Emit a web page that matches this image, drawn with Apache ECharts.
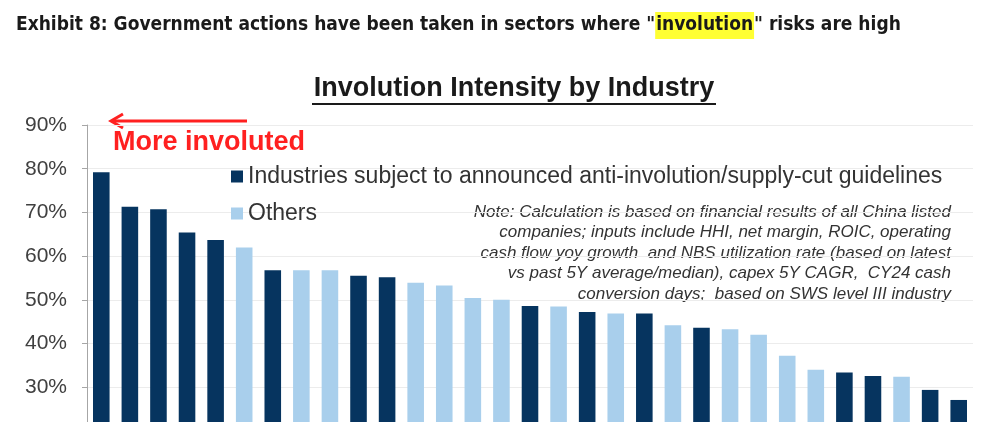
<!DOCTYPE html>
<html>
<head>
<meta charset="utf-8">
<script src="https://cdn.jsdelivr.net/npm/echarts@6/dist/echarts.min.js"></script>
<style>
  html, body { margin: 0; padding: 0; background: #fff; }
  #chart { width: 994px; height: 422px; }
</style>
</head>
<body>
<div id="chart"></div>
<script>
// industries ranked by involution score (left = most involuted)
var industries = ['1','2','3','4','5','6','7','8','9','10','11','12','13','14','15','16',
                  '17','18','19','20','21','22','23','24','25','26','27','28','29','30','31'];
var scores = [79.2, 71.3, 70.7, 65.4, 63.7, 62.0, 56.8, 56.8, 56.8, 55.5, 55.2, 53.9, 53.3, 50.4, 50.0, 48.6,
              48.5, 47.2, 46.9, 46.9, 44.2, 43.6, 43.3, 42.0, 37.2, 34.0, 33.4, 32.6, 32.4, 29.4, 27.1];
// 1 = subject to anti-involution / supply-cut guidelines, 0 = others
var guided = [1, 1, 1, 1, 1, 0, 1, 0, 0, 1, 1, 0, 0, 0, 0, 1,
              0, 1, 0, 1, 0, 1, 0, 0, 0, 0, 1, 1, 0, 1, 1];
var yTicks = [20, 30, 40, 50, 60, 70, 80, 90];

var guidedName = 'Industries subject to announced anti-involution/supply-cut guidelines';
var otherName = 'Others';
var noteLines = [
  'Note: Calculation is based on financial results of all China listed',
  'companies; inputs include HHI, net margin, ROIC, operating',
  'cash flow yoy growth  and NBS utilization rate (based on latest',
  'vs past 5Y average/median), capex 5Y CAGR,  CY24 cash',
  'conversion days;  based on SWS level III industry'
];

var dark = '#06345f';
var light = '#a9cfec';
var narrow = '"Liberation Sans Narrow", "DejaVu Sans Condensed", "Roboto Condensed", sans-serif';

var guidedData = scores.map(function (v, i) { return guided[i] ? v : '-'; });
var otherData = scores.map(function (v, i) { return guided[i] ? '-' : v; });

var chart = echarts.init(document.getElementById('chart'));

var option = {
  animation: false,
  grid: { left: 87, right: 21, top: 125, height: 306, containLabel: false, outerBoundsMode: 'none' },
  legend: {
    orient: 'vertical',
    left: 226,
    top: 160,
    itemWidth: 12,
    itemHeight: 12,
    itemGap: 14,
    icon: 'rect',
    textStyle: { fontFamily: 'Liberation Sans', fontSize: 23, color: '#333' },
    data: [guidedName, otherName]
  },
  xAxis: {
    type: 'category',
    data: industries,
    axisLine: { show: false },
    axisTick: { show: false },
    axisLabel: { show: false }
  },
  yAxis: {
    type: 'value',
    min: yTicks[0],
    max: yTicks[yTicks.length - 1],
    interval: 10,
    axisLine: { show: true, lineStyle: { color: '#a6a6a6' } },
    axisTick: { show: true, length: 5, lineStyle: { color: '#a6a6a6' } },
    axisLabel: {
      formatter: '{value}%',
      fontFamily: 'Liberation Sans',
      fontSize: 21,
      color: '#404040',
      margin: 20
    },
    splitLine: { lineStyle: { color: '#ececec' } }
  },
  series: [
    {
      name: guidedName,
      type: 'bar',
      data: guidedData,
      barWidth: '58%',
      barGap: '-100%',
      itemStyle: { color: dark }
    },
    {
      name: otherName,
      type: 'bar',
      data: otherData,
      barWidth: '58%',
      barGap: '-100%',
      itemStyle: { color: light }
    }
  ],
  graphic: [
    {
      type: 'text',
      left: 16,
      top: 12,
      style: {
        text: 'Exhibit 8: Government actions have been taken in sectors where "{hl|involution}" risks are high',
        fontFamily: narrow,
        fontWeight: 'bold',
        fontSize: 19,
        fill: '#1a1a1a',
        rich: {
          hl: {
            fontFamily: narrow,
            fontWeight: 'bold',
            fontSize: 19,
            fill: '#1a1a1a',
            backgroundColor: '#ffff33',
            padding: [4, 1, 4, 1]
          }
        }
      }
    },
    {
      type: 'text',
      x: 514,
      y: 75,
      style: {
        text: 'Involution Intensity by Industry',
        font: 'bold 27px "Liberation Sans"',
        fill: '#1a1a1a',
        textAlign: 'center'
      }
    },
    {
      type: 'line',
      shape: { x1: 312, y1: 104, x2: 716, y2: 104 },
      style: { stroke: '#1a1a1a', lineWidth: 2 }
    },
    {
      type: 'line',
      shape: { x1: 247, y1: 121, x2: 112, y2: 121 },
      style: { stroke: '#ff2020', lineWidth: 3 }
    },
    {
      type: 'polyline',
      shape: { points: [[123, 114], [111, 121], [123, 128]] },
      style: { stroke: '#ff2020', lineWidth: 3, fill: null }
    },
    {
      type: 'text',
      x: 113,
      y: 129,
      style: {
        text: 'More involuted',
        font: 'bold 27px "Liberation Sans"',
        fill: '#ff2020'
      }
    },
    {
      type: 'text',
      x: 951,
      y: 202,
      style: {
        text: noteLines.join('\n'),
        font: 'italic 17px "Liberation Sans"',
        fill: '#333',
        textAlign: 'right',
        lineHeight: 20.5
      }
    }
  ]
};

chart.setOption(option);
</script>
</body>
</html>
